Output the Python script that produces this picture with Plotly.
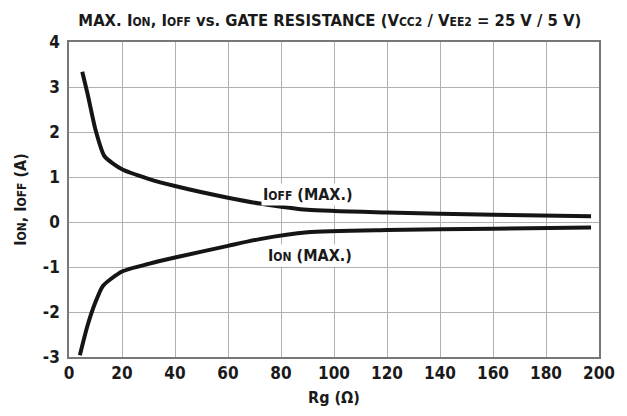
import plotly.graph_objects as go

rg_off = [5, 7, 10, 13.4, 20, 30, 40, 60, 72, 90, 120, 160, 197]
i_off = [3.34, 2.85, 2.05, 1.46, 1.17, 0.96, 0.80, 0.54, 0.41, 0.27, 0.21, 0.16, 0.13]
rg_on = [4.1, 7, 10, 12.8, 20, 30, 40, 60, 72, 90, 120, 160, 197]
i_on = [-2.96, -2.30, -1.78, -1.42, -1.10, -0.93, -0.79, -0.53, -0.38, -0.23, -0.18, -0.15, -0.12]

x_ticks = [0, 20, 40, 60, 80, 100, 120, 140, 160, 180, 200]
y_ticks = [-3, -2, -1, 0, 1, 2, 3, 4]

FONT = "Liberation Sans Narrow, DejaVu Sans Condensed, Arial Narrow, sans-serif"

def sm(t, size):
    return f'<span style="font-size:{size}px">{t}</span>'

fig = go.Figure()
fig.add_trace(go.Scatter(x=rg_off, y=i_off, mode="lines",
                         line=dict(color="#151515", width=4, shape="spline", smoothing=0.6),
                         showlegend=False))
fig.add_trace(go.Scatter(x=rg_on, y=i_on, mode="lines",
                         line=dict(color="#151515", width=4, shape="spline", smoothing=0.6),
                         showlegend=False))

fig.add_annotation(x=90, y=0.62, text="<b>I" + sm("OFF", 12) + " (MAX.)</b>",
                   showarrow=False, bgcolor="white", borderpad=1,
                   font=dict(family=FONT, size=16, color="#1a1a1a"))
fig.add_annotation(x=91, y=-0.75, text="<b>I" + sm("ON", 12) + " (MAX.)</b>",
                   showarrow=False, bgcolor="white", borderpad=1,
                   font=dict(family=FONT, size=16, color="#1a1a1a"))

title = ("<b>MAX. I" + sm("ON", 12) + ", I" + sm("OFF", 12) +
         " vs. GATE RESISTANCE (V" + sm("CC2", 12) + " / V" + sm("EE2", 12) +
         " = 25 V / 5 V)</b>")

fig.update_layout(
    width=619, height=408,
    margin=dict(l=59, r=24, t=34, b=58),
    paper_bgcolor="white", plot_bgcolor="white",
    font=dict(family=FONT, color="#1a1a1a", size=16),
    title=dict(text=title, x=0.52, xanchor="center", y=0.97, yanchor="middle",
               font=dict(family=FONT, size=16.5, color="#1a1a1a")),
    xaxis=dict(range=[0, 200], tickvals=x_ticks, ticktext=[f"<b>{v}</b>" for v in x_ticks],
               tickfont=dict(size=17), ticklabeloverflow="allow",
               showgrid=True, gridcolor="#b0b0b0", gridwidth=1,
               showline=True, linecolor="#777777", linewidth=1.5, mirror=True,
               ticks="", zeroline=False,
               title=dict(text="<b>Rg (Ω)</b>", standoff=10, font=dict(size=16))),
    yaxis=dict(range=[-3, 4], tickvals=y_ticks, ticktext=[f"<b>{v}</b>" for v in y_ticks],
               tickfont=dict(size=17), ticklabeloverflow="allow",
               showgrid=True, gridcolor="#b0b0b0", gridwidth=1,
               showline=True, linecolor="#777777", linewidth=1.5, mirror=True,
               ticks="", zeroline=False, ticklabelstandoff=4,
               title=dict(text="<b>I" + sm("ON", 12) + ", I" + sm("OFF", 12) + " (A)</b>",
                          standoff=12, font=dict(size=16))),
)

fig.write_html("out.html", config={"displayModeBar": False})
